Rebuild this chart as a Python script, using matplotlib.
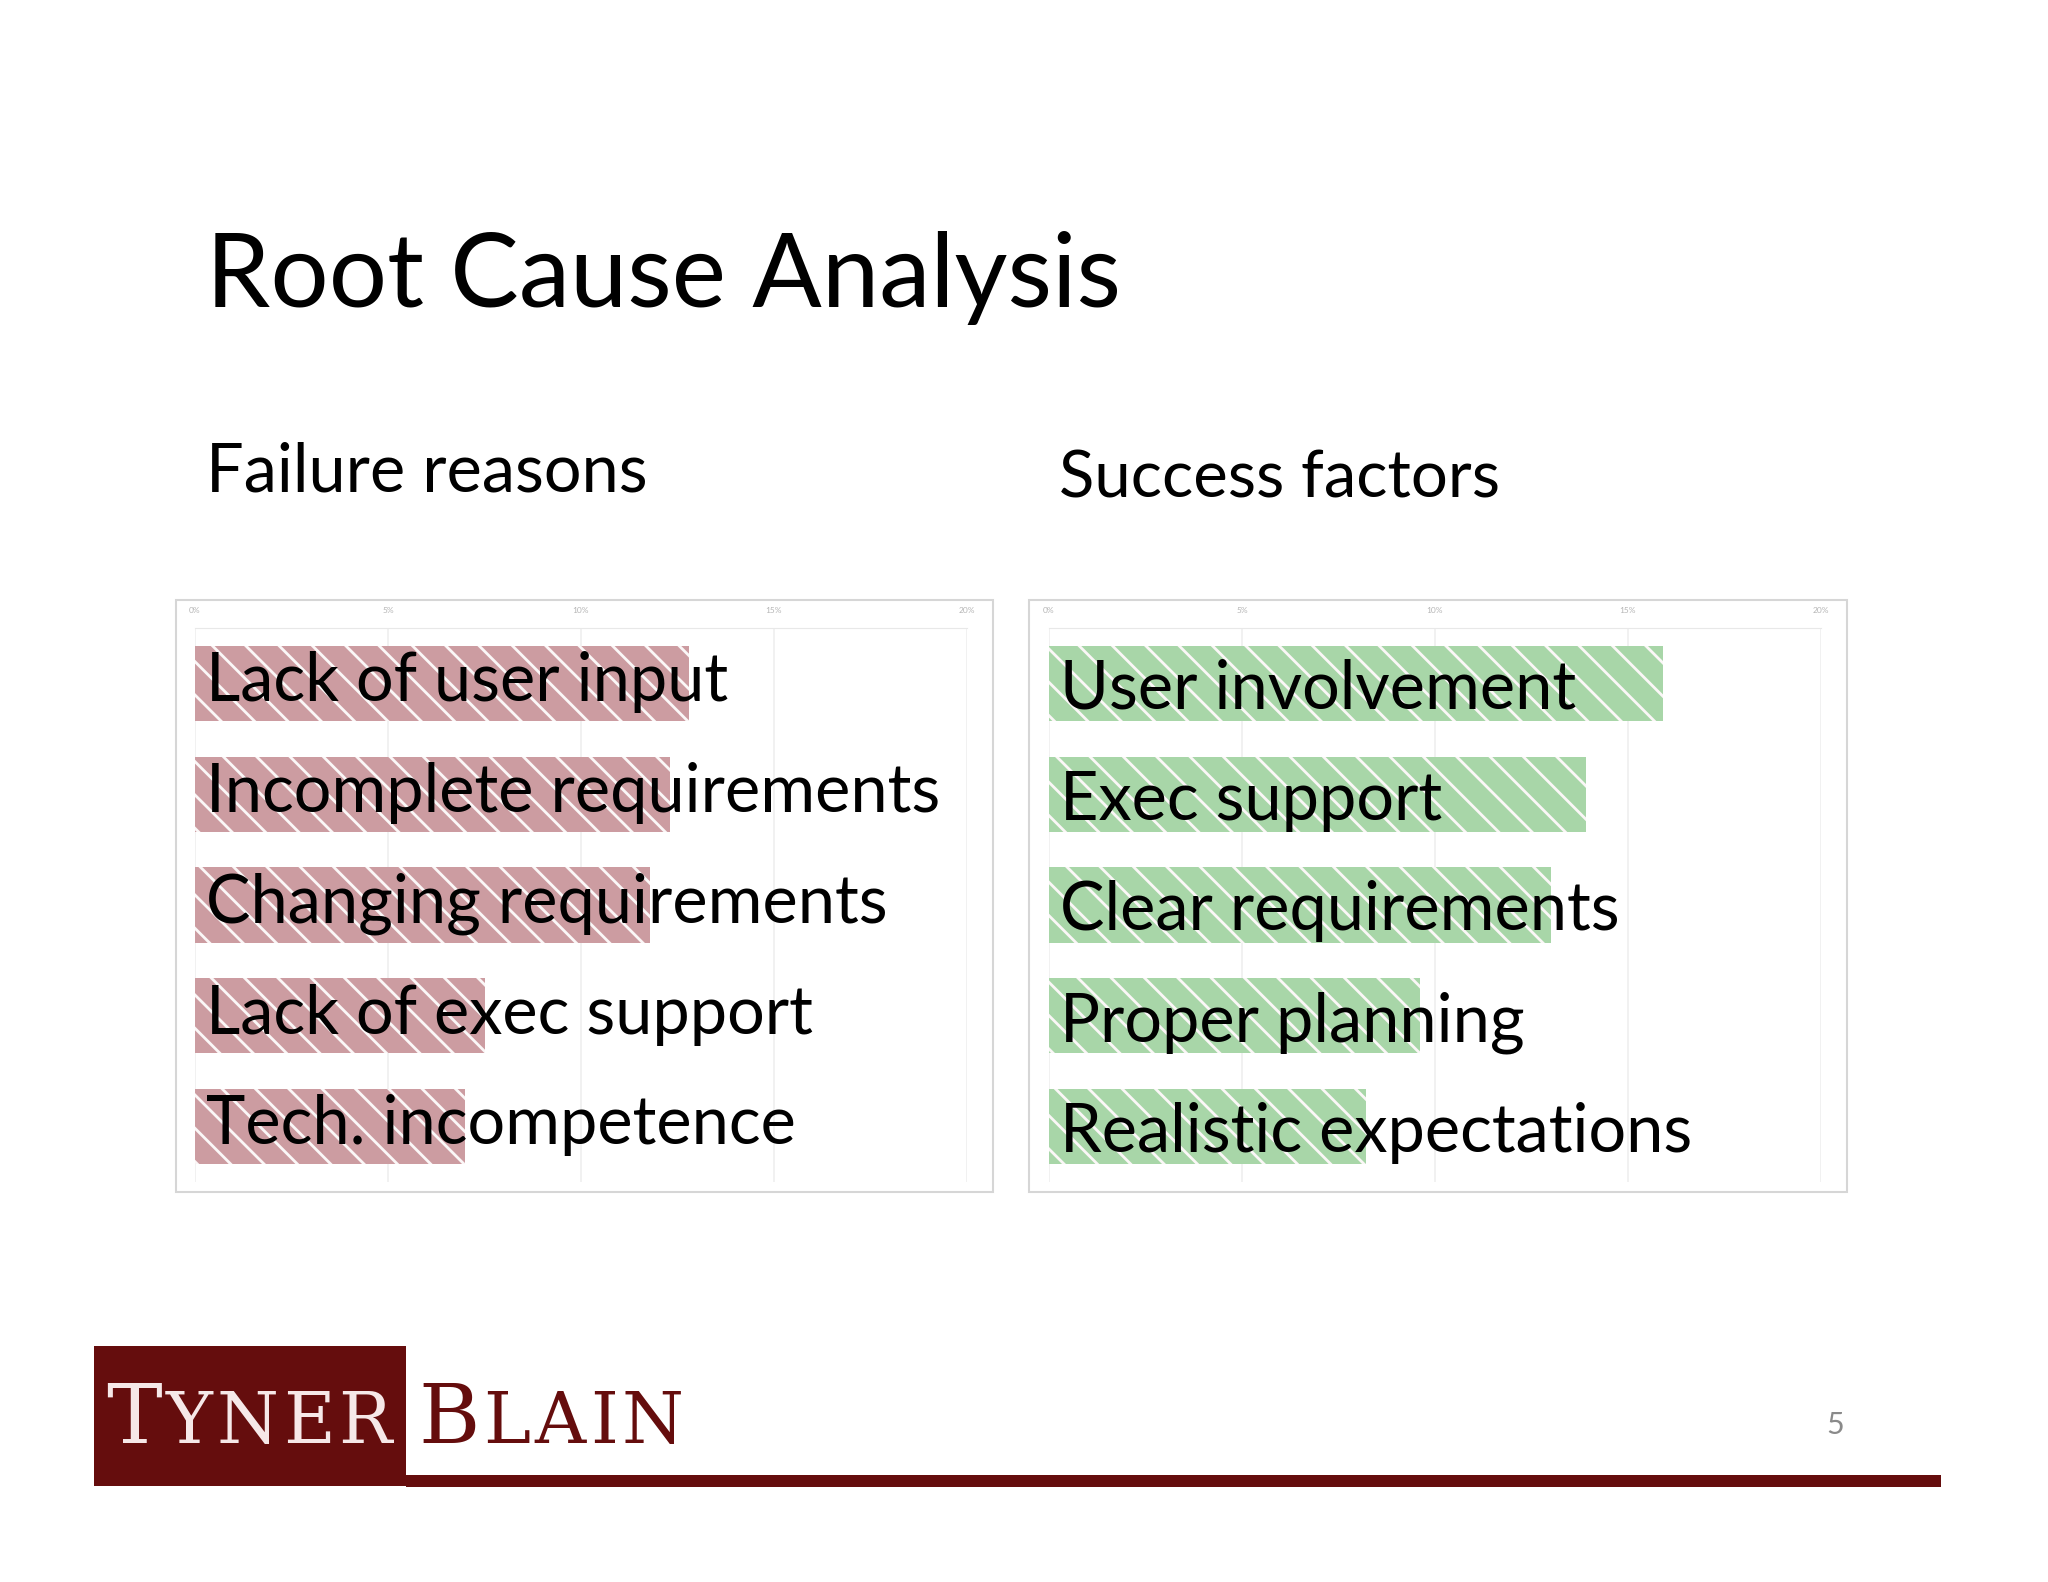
import matplotlib.pyplot as plt
from matplotlib.patches import Rectangle

plt.rcParams['font.family'] = ['Lato', 'DejaVu Sans']
plt.rcParams['hatch.linewidth'] = 2.0

# data (percent)
fail_labels = ['Lack of user input', 'Incomplete requirements', 'Changing requirements',
               'Lack of exec support', 'Tech. incompetence']
fail_values = [12.8, 12.3, 11.8, 7.5, 7.0]
succ_labels = ['User involvement', 'Exec support', 'Clear requirements',
               'Proper planning', 'Realistic expectations']
succ_values = [15.9, 13.9, 13.0, 9.6, 8.2]
ticks = [0, 5, 10, 15, 20]
tick_labels = ['0%', '5%', '10%', '15%', '20%']

W, H = 2048, 1582
fig = plt.figure(figsize=(W / 100, H / 100), dpi=100)
fig.patch.set_facecolor('white')

def fx(px):
    return px / W

def fy(py):
    return 1 - py / H

# title and subtitles
fig.text(fx(206), fy(307), 'Root Cause Analysis', fontsize=74, va='baseline', color='black')
fig.text(fx(206), fy(491), 'Failure reasons', fontsize=48, va='baseline', color='black')
fig.text(fx(1059), fy(498), 'Success factors', fontsize=47, va='baseline', color='black')


def panel(frame_x0, frame_x1, ax_x0, ax_x1, labels, values, face, text_dy):
    # light frame around each chart image
    fig.patches.append(Rectangle((fx(frame_x0), fy(1192)), fx(frame_x1 - frame_x0), (1192 - 600) / H,
                                 transform=fig.transFigure, facecolor='none',
                                 edgecolor='#d6d6d6', linewidth=1.5, zorder=-1))
    ax = fig.add_axes([fx(ax_x0), fy(1182), fx(ax_x1 - ax_x0), (1182 - 628) / H])
    ax.set_facecolor('none')
    y = list(range(len(values)))
    ax.barh(y, values, height=0.68, color=face, edgecolor='#fbf7f7', linewidth=0,
            hatch='\\', zorder=2)
    ax.set_xlim(0, 20)
    ax.set_ylim(len(values) - 0.5, -0.5)
    ax.xaxis.tick_top()
    ax.set_xticks(ticks)
    ax.set_xticklabels(tick_labels, fontsize=6, color='#b5b5b5')
    ax.tick_params(axis='x', length=0, pad=10)
    ax.set_yticks([])
    ax.grid(axis='x', color='#efefef', linewidth=1.2, zorder=0)
    for s in ['left', 'bottom', 'right']:
        ax.spines[s].set_visible(False)
    ax.spines['top'].set_color('#e8e8e8')
    trans = ax.get_yaxis_transform()
    for i, lab in enumerate(labels):
        ax.text(0.014, i + text_dy, lab, transform=trans, fontsize=48, va='baseline',
                ha='left', color='black', zorder=3)
    return ax

panel(176, 993, 195, 967, fail_labels, fail_values, '#cc9ca1', 0.16)
panel(1029, 1847, 1049, 1821, succ_labels, succ_values, '#a8d6a8', 0.23)

# footer logo
dark_red = '#650d0d'
fig.patches.append(Rectangle((fx(94), fy(1486)), fx(406 - 94), (1486 - 1346) / H,
                             transform=fig.transFigure, facecolor=dark_red, edgecolor='none'))
fig.patches.append(Rectangle((fx(406), fy(1487)), fx(1941 - 406), (1487 - 1475) / H,
                             transform=fig.transFigure, facecolor=dark_red, edgecolor='none'))

serif = ['DejaVu Serif']
fig.canvas.draw()
r = fig.canvas.get_renderer()

def word(x, big, rest, color, gap=4):
    # small caps look: first letter big, rest smaller, a bit of letter spacing
    t = fig.text(fx(x), fy(1443), big, fontsize=60, family=serif, color=color, va='baseline')
    x1 = t.get_window_extent(renderer=r).x1
    for ch in rest:
        t = fig.text((x1 + gap) / W, fy(1443), ch, fontsize=51, family=serif, color=color,
                     va='baseline')
        x1 = t.get_window_extent(renderer=r).x1

word(106, 'T', 'YNER', '#f6e8e8')
word(418, 'B', 'LAIN', dark_red)

fig.text(fx(1835), fy(1434), '5', fontsize=22, color='#8a8a8a', ha='center', va='baseline')

fig.savefig('out.png', dpi=100)
